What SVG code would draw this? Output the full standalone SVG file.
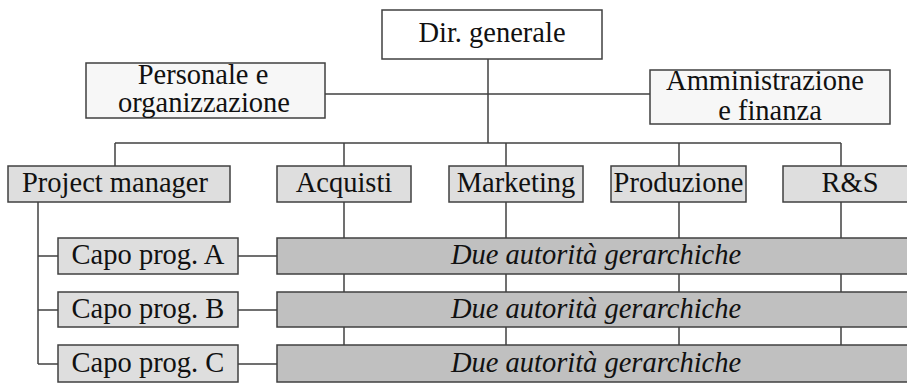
<svg xmlns="http://www.w3.org/2000/svg" width="907" height="383" viewBox="0 0 907 383">
<style>
.ln{stroke:#404040;stroke-width:1.5;fill:none}
.box{stroke:#404040;stroke-width:1.5}
.w{fill:#ffffff}
.lw{fill:#f7f7f7}
.lg{fill:#dedede}
.dg{fill:#c0c0c0}
text{font-family:"Liberation Serif","Times New Roman",serif;font-size:28.5px;fill:#111;text-anchor:middle}
.it{font-style:italic}
</style>
<rect width="907" height="383" fill="#ffffff"/>
<g id="connectors">
<line class="ln" x1="488" y1="59" x2="488" y2="143"/>
<line class="ln" x1="325" y1="94" x2="650" y2="94"/>
<line class="ln" x1="115" y1="143" x2="841" y2="143"/>
<line class="ln" x1="115" y1="143" x2="115" y2="166"/>
<line class="ln" x1="344" y1="143" x2="344" y2="345"/>
<line class="ln" x1="506" y1="143" x2="506" y2="345"/>
<line class="ln" x1="679" y1="143" x2="679" y2="345"/>
<line class="ln" x1="841" y1="143" x2="841" y2="345"/>
<line class="ln" x1="38" y1="202" x2="38" y2="364"/>
<line class="ln" x1="38" y1="256" x2="58" y2="256"/>
<line class="ln" x1="38" y1="310" x2="58" y2="310"/>
<line class="ln" x1="38" y1="364" x2="58" y2="364"/>
<line class="ln" x1="238" y1="256" x2="277" y2="256"/>
<line class="ln" x1="238" y1="310" x2="277" y2="310"/>
<line class="ln" x1="238" y1="364" x2="277" y2="364"/>
</g>
<g id="dir-generale">
<rect class="box w" x="382" y="10" width="220" height="49"/>
<text x="492" y="42">Dir. generale</text>
</g>
<g id="personale">
<rect class="box lw" x="86" y="63" width="239" height="55"/>
<text x="203" y="84">Personale e</text>
<text x="204" y="112">organizzazione</text>
</g>
<g id="amministrazione">
<rect class="box lw" x="650" y="70" width="240" height="54"/>
<text x="765" y="90">Amministrazione</text>
<text x="770" y="120">e finanza</text>
</g>
<g id="project-manager">
<rect class="box lg" x="8" y="166" width="222" height="36"/>
<text x="115" y="192">Project manager</text>
</g>
<g id="acquisti">
<rect class="box lg" x="277" y="166" width="134" height="36"/>
<text x="344" y="192">Acquisti</text>
</g>
<g id="marketing">
<rect class="box lg" x="449" y="166" width="134" height="36"/>
<text x="516" y="192">Marketing</text>
</g>
<g id="produzione">
<rect class="box lg" x="611" y="166" width="135" height="36"/>
<text x="678.5" y="192">Produzione</text>
</g>
<g id="rs">
<rect class="box lg" x="783" y="166" width="134" height="36"/>
<text x="850" y="192">R&amp;S</text>
</g>
<g id="capo-a">
<rect class="box lg" x="58" y="238" width="180" height="36"/>
<text x="148" y="264">Capo prog. A</text>
</g>
<g id="capo-b">
<rect class="box lg" x="58" y="292" width="180" height="35"/>
<text x="148" y="318">Capo prog. B</text>
</g>
<g id="capo-c">
<rect class="box lg" x="58" y="345" width="180" height="37"/>
<text x="148" y="372">Capo prog. C</text>
</g>
<g id="bar-a">
<rect class="box dg" x="277" y="238" width="640" height="36"/>
<text class="it" x="596" y="264">Due autorità gerarchiche</text>
</g>
<g id="bar-b">
<rect class="box dg" x="277" y="292" width="640" height="35"/>
<text class="it" x="596" y="318">Due autorità gerarchiche</text>
</g>
<g id="bar-c">
<rect class="box dg" x="277" y="345" width="640" height="37"/>
<text class="it" x="596" y="372">Due autorità gerarchiche</text>
</g>
</svg>
